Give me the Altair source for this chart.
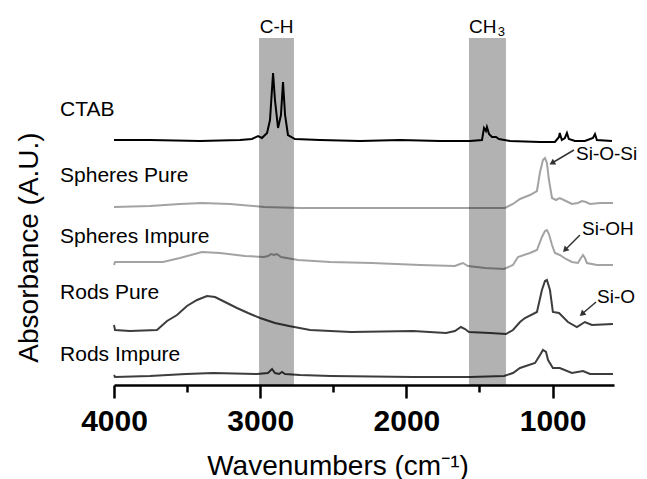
import altair as alt
import pandas as pd
import numpy as np

# ---- spectra (wavenumber, absorbance offset in A.U.) ----
ctab_w = [4000, 3754, 3412, 3138, 3056, 3015, 2988, 2953, 2933, 2912, 2899, 2878, 2858, 2844, 2830, 2810, 2762,
          2591, 2317, 2044, 1770, 1565, 1483, 1469, 1456, 1449, 1435, 1415, 1387, 1367, 1291, 1086, 984, 956, 951,
          937, 916, 902, 889, 847, 779, 724, 710, 697, 594]
ctab_a = [245, 245, 244, 245, 246, 249, 247, 252, 265, 312, 285, 257, 270, 303, 270, 250, 246,
          245, 244, 245, 244, 244, 245, 257, 254, 258, 251, 248, 248, 246, 244, 243, 243, 248, 252,
          245, 247, 252, 246, 244, 244, 247, 251, 245, 244]

sp_pure_w = [4000, 3754, 3549, 3398, 3207, 2974, 2728, 2386, 2044, 1702, 1497, 1326, 1271, 1223, 1155, 1107, 1086,
             1066, 1052, 1039, 1025, 1004, 977, 951, 909, 868, 827, 799, 772, 744, 676, 587]
sp_pure_a = [178, 179, 181, 182, 181, 178, 177, 177, 177, 177, 177, 177, 181, 186, 190, 194, 213,
             225, 227, 222, 205, 187, 185, 187, 184, 181, 182, 184, 183, 181, 182, 182]

sp_imp_w = [4000, 3993, 3754, 3665, 3549, 3398, 3275, 3104, 2974, 2946, 2926, 2905, 2885, 2858, 2741, 2523, 2235,
            1907, 1668, 1633, 1613, 1579, 1462, 1332, 1271, 1237, 1155, 1107, 1073, 1052, 1039, 1025, 1004, 984,
            951, 909, 868, 827, 806, 792, 779, 765, 696, 587]
sp_imp_a = [120, 123, 123, 123, 127, 133, 132, 129, 128, 129, 131, 130, 131, 128, 125, 123, 122,
            120, 119, 121, 122, 119, 117, 116, 120, 128, 132, 135, 148, 154, 155, 151, 140, 132,
            130, 126, 123, 122, 127, 130, 127, 122, 120, 120]

rod_pure_w = [4000, 3993, 3891, 3706, 3637, 3569, 3501, 3432, 3364, 3309, 3241, 3159, 3083, 3001, 2899, 2803, 2659,
              2379, 1955, 1729, 1668, 1627, 1599, 1572, 1428, 1319, 1271, 1223, 1189, 1107, 1073, 1052, 1039, 1018,
              998, 956, 895, 834, 779, 731, 587]
rod_pure_a = [60, 55, 54, 55, 64, 70, 79, 85, 89, 88, 83, 77, 72, 67, 62, 59, 55,
              53, 54, 52, 54, 58, 56, 53, 52, 51, 55, 63, 67, 73, 95, 104, 105, 95,
              73, 72, 63, 58, 63, 60, 61]

rod_imp_w = [4000, 3993, 3754, 3508, 3323, 3022, 2947, 2919, 2899, 2871, 2851, 2830, 2728, 2516, 1955, 1565, 1332,
             1271, 1223, 1120, 1086, 1066, 1045, 1031, 998, 951, 868, 792, 744, 587]
rod_imp_a = [10, 8, 9, 11, 12, 11, 12, 16, 12, 11, 13, 11, 10, 9, 8, 8, 9,
             12, 17, 22, 30, 35, 33, 25, 17, 17, 12, 14, 11, 11]

series_names = ["CTAB", "Spheres Pure", "Spheres Impure", "Rods Pure", "Rods Impure"]
series_colors = ["#000000", "#a3a3a3", "#a3a3a3", "#3d3d3d", "#3d3d3d"]
series_data = [(ctab_w, ctab_a), (sp_pure_w, sp_pure_a), (sp_imp_w, sp_imp_a),
               (rod_pure_w, rod_pure_a), (rod_imp_w, rod_imp_a)]

# series labels (left of plot)
label_w = [4369] * 5
label_a = [269, 203, 142.5, 86, 24.5]

# shaded bands
band_names = ["C-H", "CH3"]
band_start = [3008, 1572]
band_end = [2769, 1319]

# band labels
bandlab_text = ["C-H", "CH"]
bandlab_w = [2888, 1572]
bandlab_a = [352, 352]
sub_text = ["3"]
sub_w = [1375]
sub_a = [349]

# peak annotations
ann_text = ["Si-O-Si", "Si-OH", "Si-O"]
ann_w = [840, 799, 696]
ann_a = [225, 150, 82.5]
arrow_tail_w = [854, 813, 703]
arrow_tail_a = [235, 150, 83]
arrow_head_w = [1004, 915, 799]
arrow_head_a = [222, 135, 71]

W, H = 500, 347
XDOM = [4000, 580]
YDOM = [0, 347]
FONT = "Liberation Sans"

rows = []
for name, (ws, as_) in zip(series_names, series_data):
    for i, (w, a) in enumerate(zip(ws, as_)):
        rows.append({"series": name, "w": w, "a": a, "i": i})
spec_df = pd.DataFrame(rows)

xscale = alt.Scale(domain=XDOM, nice=False, zero=False)
yscale = alt.Scale(domain=YDOM, nice=False, zero=False)

xaxis = alt.Axis(
    values=[4000, 3500, 3000, 2500, 2000, 1500, 1000],
    labelExpr="datum.value % 1000 === 0 ? format(datum.value, 'd') : ''",
    tickSize={"condition": {"test": "datum.value % 1000 === 0", "value": 13}, "value": 7},
    tickWidth=2.5, tickColor="#000000", domainColor="#000000", domainWidth=2.5,
    labelFont=FONT, labelFontSize=30, labelFontWeight="bold", labelColor="#000000",
    labelPadding=8, labelFlush=False, labelOverlap=False, grid=False,
    title="Wavenumbers (cm⁻¹)", titleFont=FONT, titleFontSize=28, titleFontWeight="normal",
    titleColor="#000000", titleX=223.5, titleY=89, titleBaseline="alphabetic", titleAlign="center",
)
yaxis = alt.Axis(
    domain=False, ticks=False, labels=False, grid=False,
    title="Absorbance (A.U.)", titleFont=FONT, titleFontSize=28, titleFontWeight="normal",
    titleColor="#000000", titleX=-77, titleY=209, titleAngle=270, titleBaseline="alphabetic",
    titleAlign="center",
)

lines = alt.Chart(spec_df).mark_line(strokeWidth=2, clip=False).encode(
    x=alt.X("w:Q", scale=xscale, axis=xaxis),
    y=alt.Y("a:Q", scale=yscale, axis=yaxis),
    color=alt.Color("series:N", scale=alt.Scale(domain=series_names, range=series_colors), legend=None),
    detail="series:N",
    order="i:Q",
)

band_df = pd.DataFrame({"band": band_names, "s": band_start, "e": band_end,
                        "top": [YDOM[1]] * 2, "bot": [YDOM[0]] * 2})
bands = alt.Chart(band_df).mark_rect(color="#000000", opacity=0.3).encode(
    x="s:Q", x2="e:Q", y="top:Q", y2="bot:Q"
)

lab_df = pd.DataFrame({"t": series_names, "w": label_w, "a": label_a})
labels = alt.Chart(lab_df).mark_text(align="left", baseline="alphabetic", font=FONT, fontSize=21,
                                     color="#000000").encode(x="w:Q", y="a:Q", text="t:N")

bl_df = pd.DataFrame({"t": bandlab_text, "w": bandlab_w, "a": bandlab_a})
bl_center = alt.Chart(bl_df.iloc[[0]]).mark_text(align="center", baseline="alphabetic", font=FONT,
                                                 fontSize=19, color="#000000").encode(x="w:Q", y="a:Q", text="t:N")
bl_left = alt.Chart(bl_df.iloc[[1]]).mark_text(align="left", baseline="alphabetic", font=FONT,
                                               fontSize=19, color="#000000").encode(x="w:Q", y="a:Q", text="t:N")
sub_df = pd.DataFrame({"t": sub_text, "w": sub_w, "a": sub_a})
sub = alt.Chart(sub_df).mark_text(align="left", baseline="alphabetic", font=FONT, fontSize=13,
                                  color="#000000").encode(x="w:Q", y="a:Q", text="t:N")

ann_df = pd.DataFrame({"t": ann_text, "w": ann_w, "a": ann_a})
ann = alt.Chart(ann_df).mark_text(align="left", baseline="alphabetic", font=FONT, fontSize=19,
                                  color="#000000").encode(x="w:Q", y="a:Q", text="t:N")

pxw = W / (XDOM[0] - XDOM[1])
pxa = H / (YDOM[1] - YDOM[0])
angles = []
for tw, ta, hw, ha in zip(arrow_tail_w, arrow_tail_a, arrow_head_w, arrow_head_a):
    dx = (tw - hw) * pxw
    dy = (ha - ta) * pxa
    ang = np.degrees(np.arctan2(dx, dy)) % 360
    angles.append(float(ang))
arr_df = pd.DataFrame({"tw": arrow_tail_w, "ta": arrow_tail_a, "hw": arrow_head_w, "ha": arrow_head_a,
                       "ang": angles})
arrow_lines = alt.Chart(arr_df).mark_rule(color="#333333", strokeWidth=1.5).encode(
    x="tw:Q", y="ta:Q", x2="hw:Q", y2="ha:Q")
arrow_heads = alt.Chart(arr_df).mark_point(shape="triangle-up", filled=True, size=45, color="#333333",
                                           opacity=1).encode(
    x="hw:Q", y="ha:Q", angle=alt.Angle("ang:Q", scale=None))

chart = alt.layer(lines, bands, labels, bl_center, bl_left, sub, ann, arrow_lines, arrow_heads).properties(
    width=W, height=H,
    autosize=alt.AutoSizeParams(type="none"),
    padding={"left": 106, "top": 30, "right": 25, "bottom": 94},
).configure_view(strokeWidth=0)

chart.save("out.html", embed_options={"renderer": "svg", "actions": False})
